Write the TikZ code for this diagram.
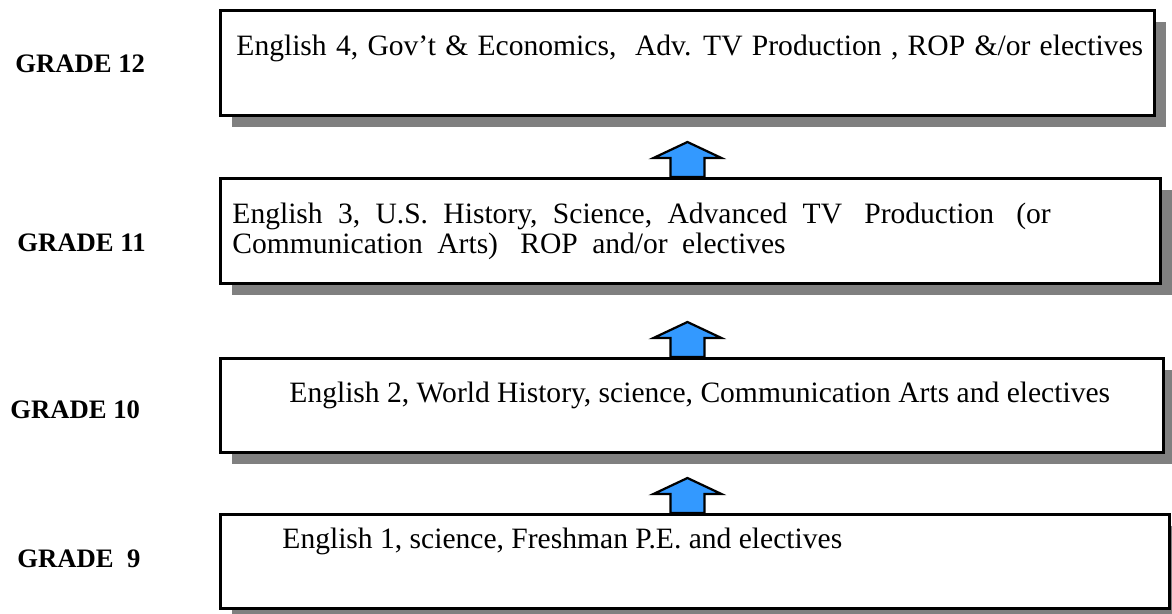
\documentclass[tikz,border=0pt]{standalone}
\usepackage{fontspec}
\setmainfont{Liberation Serif}
\usepackage{xcolor}
\usetikzlibrary{shadows, positioning}
\definecolor{arrowblue}{RGB}{51,153,255}
\newcommand{\unitpx}{0.45pt}

\begin{document}
\begin{tikzpicture}[x=0.45pt, y=-0.45pt,
  course/.style={draw, line width=1.3pt, fill=white, anchor=north west, inner sep=0pt,
    drop shadow={shadow xshift=5pt, shadow yshift=-5pt, fill=gray, opacity=1}},
  grade/.style={anchor=base west, inner sep=0pt, font=\fontsize{12}{13}\selectfont\bfseries},
  subjects/.style={anchor=base west, inner sep=0pt, align=left, font=\fontsize{13.3}{13.4}\selectfont},
  uparrow/.pic={\draw[fill=arrowblue, line width=1pt] (-17,0) -- (-17,-19) -- (-34,-19) -- (0,-35) -- (34,-19) -- (17,-19) -- (17,0) -- cycle;}]
\useasboundingbox (0,0) rectangle (1172,613);

% course boxes
\node[course, minimum width=934*\unitpx, minimum height=105*\unitpx] (b12) at (219,9) {};
\node[course, minimum width=940*\unitpx, minimum height=105*\unitpx] (b11) at (219,177) {};
\node[course, minimum width=943*\unitpx, minimum height=94*\unitpx] (b10) at (219,357) {};
\node[course, minimum width=949*\unitpx, minimum height=94*\unitpx] (b9) at (219,513) {};

% grade labels
\node[grade] (g12) at (15,72) {GRADE 12};
\node[grade] (g11) at (17,251) {GRADE 11};
\node[grade] (g10) at (10,418) {GRADE 10};
\node[grade] (g9) at (17,567) {GRADE\ \ 9};

% subjects
\node[subjects] (s12) at (236,55) {\spaceskip=4.2pt\relax English 4, Gov’t \& Economics,\ \ Adv. TV Production , ROP \&/or electives};
\node[subjects] (s11) at (232,253) {\spaceskip=6.9pt\relax English 3, U.S. History, Science, Advanced TV\hspace{10pt}Production\hspace{10pt}(or\\\spaceskip=6.5pt\relax Communication Arts)\hspace{10pt}ROP and/or electives};
\node[subjects] (s10) at (289,402) {English 2, World History, science, Communication Arts and electives};
\node[subjects] (s9) at (282,548) {English 1, science, Freshman P.E. and electives};

% arrows
\pic at (b11.north -| b12.south) {uparrow};
\pic at (b10.north -| b12.south) {uparrow};
\pic at (b9.north -| b12.south) {uparrow};
\end{tikzpicture}
\end{document}
